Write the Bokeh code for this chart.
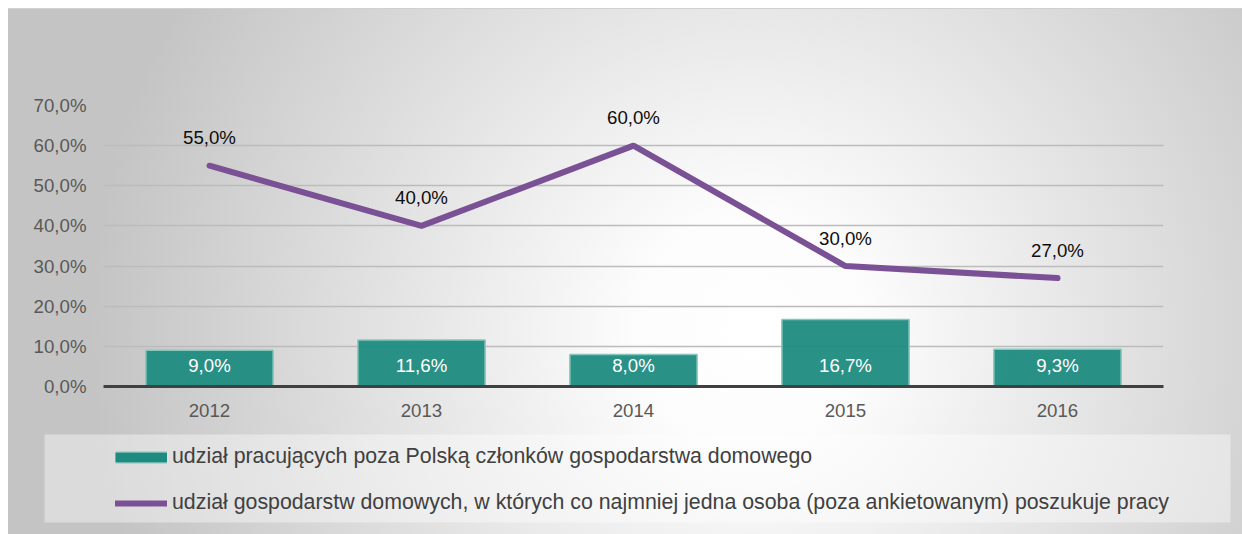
from bokeh.plotting import figure
from bokeh.models import (ColumnDataSource, Range1d, FactorRange, Legend, LegendItem,
                          LabelSet, FixedTicker)
from bokeh.core.properties import value
from bokeh.embed import file_html
from bokeh.resources import INLINE

years = ["2012", "2013", "2014", "2015", "2016"]
bar_values = [9.0, 11.6, 8.0, 16.7, 9.3]
line_values = [55.0, 40.0, 60.0, 30.0, 27.0]
y_ticks = [0, 10, 20, 30, 40, 50, 60, 70]
bar_name = "udział pracujących poza Polską członków gospodarstwa domowego"
line_name = "udział gospodarstw domowych, w których co najmniej jedna osoba (poza ankietowanym) poszukuje pracy"


def pct(v):
    return f"{v:.1f}%".replace(".", ",")


src = ColumnDataSource(dict(
    year=years,
    bar=bar_values,
    line=line_values,
    bar_label=[pct(v) for v in bar_values],
    line_label=[pct(v) for v in line_values],
))

FONT = "Liberation Sans"
BAR_FILL = "#1f8b7f"
BAR_EDGE = "#86c6bc"
LINE_COLOR = "#7a5195"

TOP_H = 426


def backdrop(y_shift, top_strip):
    layers = []
    if top_strip:
        layers.append("linear-gradient(#ffffff,#ffffff) left top / 100% 8px no-repeat")
        layers.append("linear-gradient(#d0d0d0,#d0d0d0) 8px 8px / 100% 1px no-repeat")
    layers.append("linear-gradient(#ffffff,#ffffff) left top / 8px 100% no-repeat")
    layers.append(f"radial-gradient(circle 660px at 750px {330 - y_shift}px, "
                  "#ffffff 0%, #fcfcfc 18%, #c4c4c4 100%)")
    return {"background": ", ".join(layers)}


p = figure(width=1242, height=TOP_H,
           x_range=FactorRange(factors=years, range_padding=0),
           y_range=Range1d(0, 70),
           output_backend="svg", toolbar_location=None,
           min_border_left=103, min_border_right=79,
           min_border_top=105, min_border_bottom=40,
           background_fill_color=None, border_fill_color=None,
           outline_line_color=None, styles=backdrop(0, True))

# gridlines
p.xgrid.grid_line_color = None
p.ygrid.ticker = FixedTicker(ticks=y_ticks)
p.ygrid.grid_line_color = "#bcbcbc"
p.ygrid.grid_line_width = 1.3

# axes
p.yaxis.ticker = FixedTicker(ticks=y_ticks)
p.yaxis.major_label_overrides = {t: pct(t) for t in y_ticks}
p.yaxis.axis_line_color = None
p.yaxis.major_tick_line_color = None
p.yaxis.minor_tick_line_color = None
p.yaxis.major_tick_out = 0
p.yaxis.major_tick_in = 0
p.yaxis.minor_tick_out = 0
p.yaxis.major_label_standoff = 17
p.yaxis.major_label_text_font = FONT
p.yaxis.major_label_text_font_size = "14pt"
p.yaxis.major_label_text_color = "#595959"

p.xaxis.axis_line_color = "#404040"
p.xaxis.axis_line_width = 3
p.xaxis.major_tick_line_color = None
p.xaxis.minor_tick_line_color = None
p.xaxis.major_tick_out = 0
p.xaxis.major_tick_in = 0
p.xaxis.major_label_standoff = 17
p.xaxis.major_label_text_font = FONT
p.xaxis.major_label_text_font_size = "14pt"
p.xaxis.major_label_text_color = "#595959"

bars = p.vbar(x="year", top="bar", width=0.6, source=src,
              fill_color=BAR_FILL, fill_alpha=0.95,
              line_color=BAR_EDGE, line_width=1.5)
line = p.line(x="year", y="line", source=src, line_color=LINE_COLOR,
              line_width=6, line_cap="round")

bar_labels = LabelSet(x="year", y=0, text="bar_label", source=src,
                      y_offset=21, text_align="center", text_baseline="middle",
                      text_font=value(FONT), text_font_size=value("14pt"),
                      text_color="white")
line_labels = LabelSet(x="year", y="line", text="line_label", source=src,
                       y_offset=28, text_align="center", text_baseline="middle",
                       text_font=value(FONT), text_font_size=value("14pt"),
                       text_color="#0d0d0d")
p.add_layout(bar_labels)
p.add_layout(line_labels)

# legend panel (its frame is the light legend box)
lg = figure(width=1242, height=534 - TOP_H,
            x_range=FactorRange(factors=years), y_range=Range1d(0, 1),
            x_axis_type=None, y_axis_type=None,
            output_backend="svg", toolbar_location=None,
            min_border_left=44, min_border_right=12,
            min_border_top=8, min_border_bottom=12,
            background_fill_color="white", background_fill_alpha=0.4,
            border_fill_color=None, outline_line_color=None,
            styles=backdrop(TOP_H, False))

# legend keys (hidden renderers, drawn only as legend symbols)
key_bar_edge = lg.line(x="year", y="bar", source=src, line_color=BAR_EDGE,
                       line_width=12, line_cap="butt", visible=False)
key_bar_fill = lg.line(x="year", y="bar", source=src, line_color=BAR_FILL,
                       line_width=9.5, line_cap="butt", visible=False)
key_line = lg.line(x="year", y="line", source=src, line_color=LINE_COLOR,
                   line_width=6, line_cap="round", visible=False)

legend = Legend(items=[LegendItem(label=bar_name, renderers=[key_bar_edge, key_bar_fill]),
                       LegendItem(label=line_name, renderers=[key_line])],
                location=(71, 7), orientation="vertical",
                padding=0, margin=0, spacing=21,
                glyph_width=52, glyph_height=24, label_height=24,
                label_standoff=5,
                label_text_font=FONT, label_text_font_size="16pt",
                label_text_color="#404040",
                background_fill_alpha=0, border_line_color=None)
lg.add_layout(legend)

open("out.html", "w").write(file_html([p, lg], INLINE))
